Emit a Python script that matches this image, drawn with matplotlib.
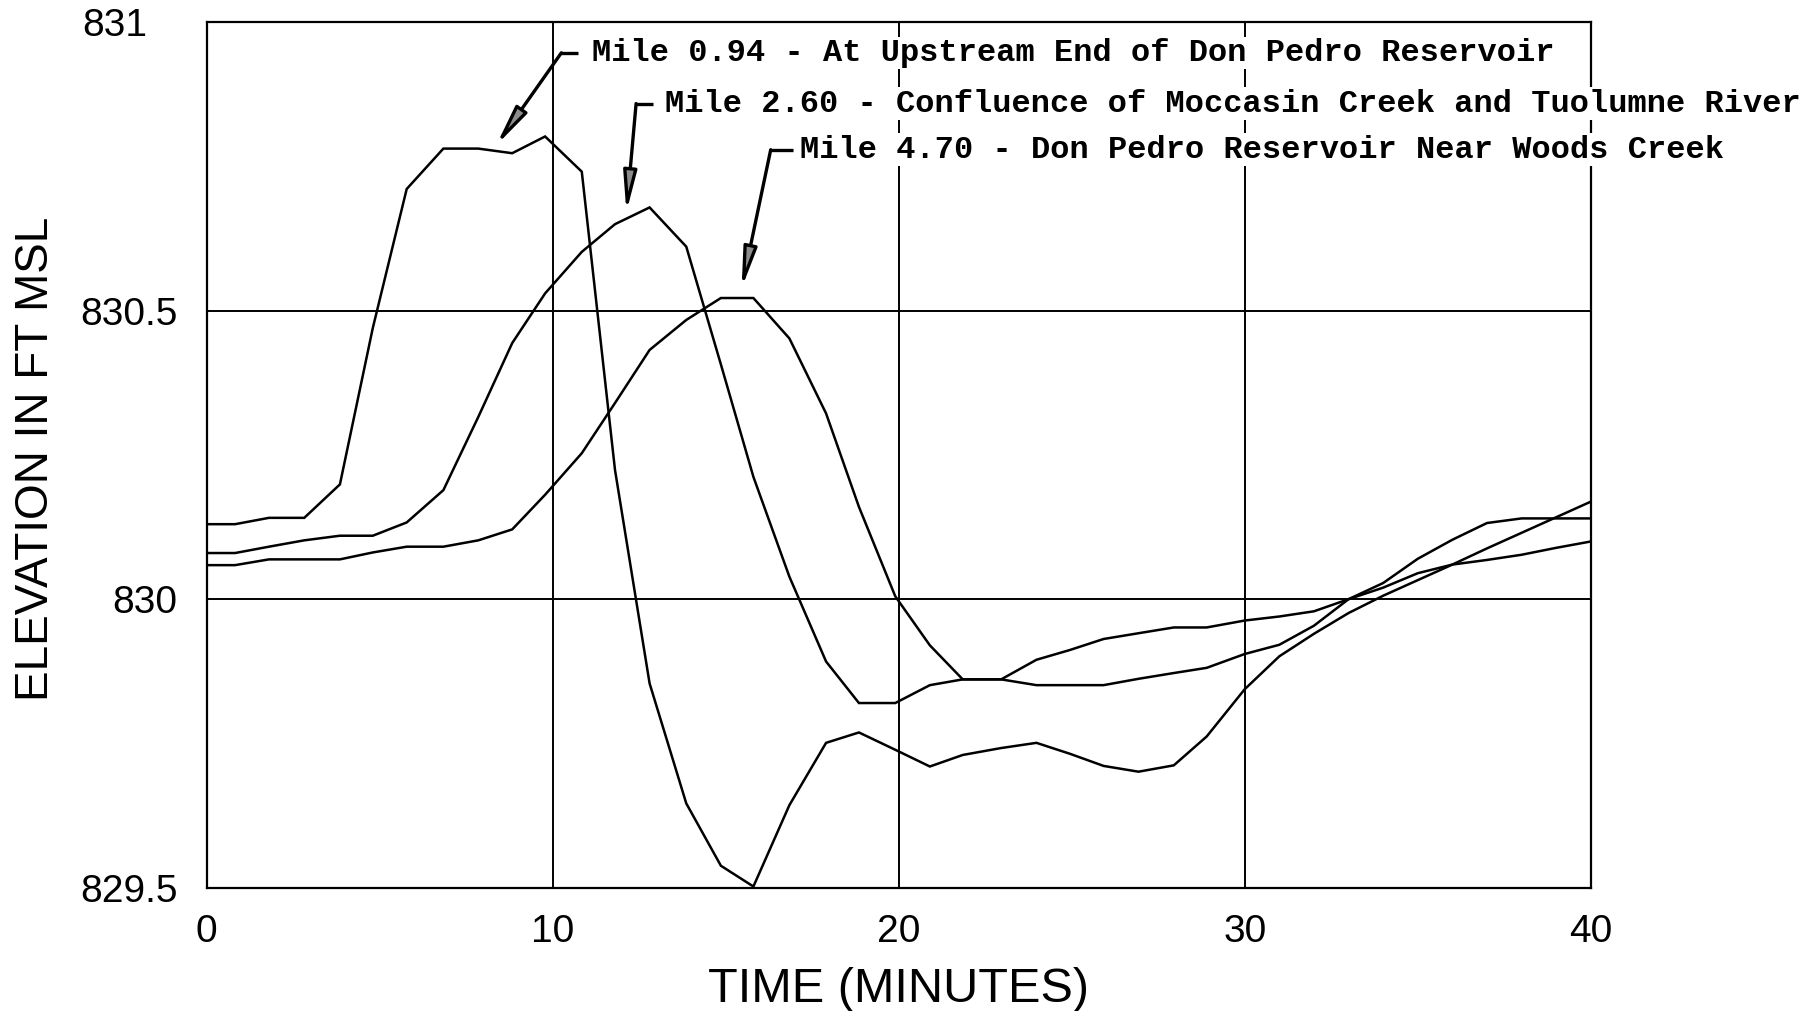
import matplotlib
matplotlib.use("Agg")
import matplotlib.pyplot as plt
from matplotlib.transforms import ScaledTranslation

# ---- data ----
time_min = [0.0, 0.82, 1.8, 2.82, 3.85, 4.8, 5.78, 6.84, 7.85, 8.83,
            9.78, 10.84, 11.8, 12.8, 13.86, 14.86, 15.8, 16.84, 17.9, 18.85,
            19.9, 20.9, 21.85, 22.96, 23.98, 24.95, 25.92, 26.93, 27.95, 28.9,
            30.0, 31.0, 32.0, 33.0, 34.0, 35.0, 36.0, 37.0, 38.0, 39.0, 40.0]

mile_094 = [830.130, 830.130, 830.141, 830.141, 830.199, 830.470, 830.711, 830.781, 830.781, 830.773,
            830.802, 830.741, 830.224, 829.854, 829.646, 829.538, 829.502, 829.643, 829.751, 829.769,
            829.739, 829.710, 829.730, 829.742, 829.751, 829.732, 829.711, 829.701, 829.712, 829.762,
            829.844, 829.901, 829.940, 829.976, 830.006, 830.033, 830.060, 830.088, 830.115, 830.142,
            830.169]

mile_260 = [830.080, 830.080, 830.091, 830.102, 830.110, 830.110, 830.133, 830.189, 830.316, 830.444,
            830.530, 830.602, 830.650, 830.679, 830.611, 830.407, 830.212, 830.039, 829.892, 829.820,
            829.820, 829.851, 829.861, 829.861, 829.851, 829.851, 829.851, 829.862, 829.872, 829.881,
            829.905, 829.921, 829.954, 830.000, 830.028, 830.070, 830.103, 830.132, 830.140, 830.140,
            830.140]

mile_470 = [830.059, 830.059, 830.069, 830.069, 830.069, 830.081, 830.091, 830.091, 830.102, 830.121,
            830.181, 830.253, 830.340, 830.432, 830.484, 830.522, 830.522, 830.452, 830.322, 830.160,
            830.005, 829.920, 829.861, 829.861, 829.895, 829.912, 829.931, 829.941, 829.951, 829.951,
            829.963, 829.970, 829.979, 830.000, 830.020, 830.045, 830.060, 830.068, 830.077, 830.089,
            830.100]

series = [mile_094, mile_260, mile_470]
labels = ["Mile 0.94 - At Upstream End of Don Pedro Reservoir",
          "Mile 2.60 - Confluence of Moccasin Creek and Tuolumne River",
          "Mile 4.70 - Don Pedro Reservoir Near Woods Creek"]

x_ticks = [0, 10, 20, 30, 40]
y_ticks = [829.5, 830.0, 830.5, 831.0]
y_tick_labels = ["829.5", "830", "830.5", "831"]

# ---- figure ----
fig = plt.figure(figsize=(18.18, 10.11), dpi=100)
ax = fig.add_axes([0.1137, 0.122, 0.7613, 0.856])

for s in series:
    ax.plot(time_min, s, color="black", lw=1.8, zorder=4, solid_joinstyle="miter")

ax.set_xlim(0, 40)
ax.set_ylim(829.5, 831.0)
ax.set_xticks(x_ticks)
ax.set_xticklabels([str(t) for t in x_ticks])
ax.set_yticks(y_ticks)
ax.set_yticklabels(y_tick_labels)
ax.tick_params(axis="both", length=0, labelsize=28)
ax.tick_params(axis="x", pad=19)
ax.tick_params(axis="y", pad=21)
for lab in ax.get_xticklabels() + ax.get_yticklabels():
    lab.set_family("Liberation Sans")
# the top label sits a little further left in the original
top_lab = ax.get_yticklabels()[-1]
top_lab.set_transform(top_lab.get_transform() + ScaledTranslation(-0.30, 0, fig.dpi_scale_trans))

ax.grid(True, color="black", lw=1.4, zorder=1)
ax.set_axisbelow(True)
for sp in ax.spines.values():
    sp.set_linewidth(1.6)
    sp.set_zorder(2)

ax.set_xlabel("TIME (MINUTES)", fontsize=35, family="Liberation Sans")
ax.xaxis.set_label_coords(0.5, -0.118)
ax.xaxis.label.set_va("center")
ax.set_ylabel("ELEVATION IN FT MSL", fontsize=33, family="Liberation Sans")
ax.yaxis.set_label_coords(-0.123, 0.495)
ax.yaxis.label.set_va("center")

# ---- annotations (text start, tick start, tick end, arrow tip) ----
text_pos = [(11.13, 830.947), (13.25, 830.859), (17.15, 830.779)]
tick_x = [(10.25, 10.73), (12.41, 12.91), (16.30, 16.95)]
tip_pos = [(8.37, 830.787), (12.13, 830.671), (15.46, 830.539)]

for lab, (tx, ty), (k0, k1), (px, py) in zip(labels, text_pos, tick_x, tip_pos):
    ax.text(tx, ty, lab, fontsize=23, family="Liberation Mono", fontweight="bold",
            ha="left", va="center", zorder=6, clip_on=False,
            bbox=dict(facecolor="white", edgecolor="none", pad=1.0))
    ax.plot([k0, k1], [ty, ty], color="black", lw=2.4, zorder=7,
            solid_capstyle="butt", clip_on=False)
    ax.annotate("", xy=(px, py), xytext=(k0, ty), zorder=7,
                arrowprops=dict(arrowstyle="-|>,head_length=2.4,head_width=0.4",
                                mutation_scale=10, lw=2.4, ec="black", fc="0.55",
                                shrinkA=0, shrinkB=0))

fig.savefig("out.png", dpi=100, facecolor="white")
